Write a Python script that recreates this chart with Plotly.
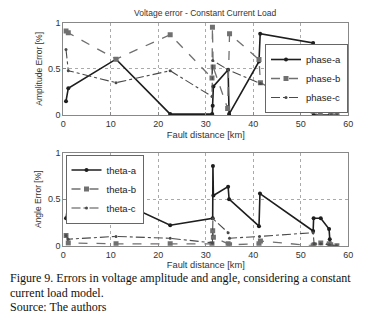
import plotly.graph_objects as go

# ---- data: top panel (amplitude error) ----
pa_x = [0.57, 1.05, 11.1, 22.5, 31.35, 31.45, 31.6, 34.7, 34.9, 41.2, 41.45, 52.6, 52.7, 54.1, 56.1, 57.7]
pa_y = [0.15, 0.29, 0.605, 0.01, 0.01, 0.10, 0.31, 0.49, 0.01, 0.58, 0.88, 0.78, 0.0, 0.0, 0.0, 0.0]

pb_x = [0.57, 1.05, 11.1, 22.5, 31.3, 31.4, 31.55, 34.6, 35.0, 41.2, 41.5, 52.6, 54.1, 55.9, 56.1, 56.4, 57.6]
pb_y = [0.91, 0.89, 0.605, 0.87, 0.40, 0.95, 0.52, 0.07, 0.88, 0.60, 0.35, 0.04, 0.0, 0.25, 0.13, 0.0, 0.0]

pc_x = [0.57, 1.05, 11.1, 22.5, 31.3, 31.45, 34.7, 41.5, 52.6, 52.7, 54.1, 56.0, 56.4, 57.6]
pc_y = [0.71, 0.48, 0.35, 0.48, 0.20, 0.59, 0.49, 0.34, 0.27, 0.20, 0.20, 0.16, 0.0, 0.0]

# ---- data: bottom panel (angle error) ----
ta_x = [0.57, 1.05, 11.1, 22.5, 31.45, 31.5, 31.6, 34.7, 34.9, 41.2, 41.4, 52.6, 52.7, 54.2, 55.95, 56.1, 56.2, 57.6]
ta_y = [0.295, 0.47, 0.49, 0.22, 0.295, 0.857, 0.54, 0.635, 0.50, 0.21, 0.56, 0.158, 0.295, 0.295, 0.18, 0.07, 0.0, 0.0]

tb_x = [0.57, 1.05, 11.1, 22.5, 31.3, 31.45, 31.6, 34.7, 35.0, 41.2, 41.5, 52.6, 52.8, 54.2, 56.0, 56.3, 57.6]
tb_y = [0.11, 0.03, 0.02, 0.02, 0.02, 0.16, 0.09, 0.02, 0.01, 0.02, 0.05, 0.0, 0.01, 0.03, 0.02, 0.01, 0.0]

tc_x = [0.57, 1.05, 11.1, 22.5, 31.4, 31.5, 34.7, 35.0, 41.3, 52.6, 52.8, 54.2, 56.0, 57.5]
tc_y = [0.11, 0.07, 0.10, 0.08, 0.03, 0.29, 0.14, 0.08, 0.10, 0.14, 0.02, 0.02, 0.01, 0.0]

x_ticks = [0, 10, 20, 30, 40, 50, 60]
y_ticks = [0, 0.5, 1]
y_tick_labels = ["0", "0.5", "1"]

# the page body has an 8px margin, so the figure is drawn 8px in from the top-left
OFF = 8
W, H = 386 - OFF, 322 - OFF
def px(v):
    return (v - OFF) / W
def py(v):
    return 1 - (v - OFF) / H

fig = go.Figure()

def add(x, y, name, color, dash, symbol, msize, width, axis, legend):
    fig.add_trace(go.Scatter(
        x=x, y=y, name=name, mode="lines+markers",
        line=dict(color=color, dash=dash, width=width),
        marker=dict(symbol=symbol, size=msize, color=color),
        xaxis="x" if axis == 1 else "x2", yaxis="y" if axis == 1 else "y2",
        legend=legend,
    ))

add(pa_x, pa_y, "phase-a", "#1e1e1e", "solid", "circle", 4, 1.6, 1, "legend")
add(pb_x, pb_y, "phase-b", "#707070", "dash", "square", 5, 1.3, 1, "legend")
add(pc_x, pc_y, "phase-c", "#4a4a4a", "dashdot", "circle", 3, 1.1, 1, "legend")
add(ta_x, ta_y, "theta-a", "#1e1e1e", "solid", "circle", 4, 1.6, 2, "legend2")
add(tb_x, tb_y, "theta-b", "#707070", "dash", "square", 5, 1.3, 2, "legend2")
add(tc_x, tc_y, "theta-c", "#4a4a4a", "dashdot", "circle", 3, 1.1, 2, "legend2")

tickfont = dict(family="Liberation Sans, Arial", size=9, color="#333")
axis_common = dict(
    range=[0, 60], tickvals=x_ticks, showgrid=True, gridcolor="#aaa", griddash="dot",
    gridwidth=1, showline=True, linecolor="#888", mirror=True, ticks="inside",
    ticklen=3, tickcolor="#888", zeroline=False, tickfont=tickfont, automargin=False,
)
yaxis_common = dict(
    range=[0, 1], tickvals=y_ticks, ticktext=y_tick_labels, showgrid=True, gridcolor="#aaa",
    griddash="dot", gridwidth=1, showline=True, linecolor="#888", mirror=True,
    ticks="inside", ticklen=3, tickcolor="#888", zeroline=False, tickfont=tickfont,
    automargin=False,
)
xtitle_font = dict(family="Liberation Sans, Arial", size=9.3, color="#333")
ytitle_font = dict(family="Liberation Sans, Arial", size=8.5, color="#333")
legend_font = dict(family="Liberation Sans, Arial", size=9.5, color="#222")
caption_font = dict(family="Liberation Serif, Times New Roman", size=12, color="#111")

fig.update_layout(
    width=W, height=H, margin=dict(l=0, r=0, t=0, b=0, pad=0, autoexpand=False),
    paper_bgcolor="white", plot_bgcolor="white", showlegend=True,
    xaxis=dict(domain=[px(63.3), px(348.3)], anchor="y",
               title=dict(text="Fault distance [km]", font=xtitle_font, standoff=3), **axis_common),
    yaxis=dict(domain=[py(115), py(22.7)], anchor="x",
               title=dict(text="Amplitude Error [%]", font=ytitle_font, standoff=4), **yaxis_common),
    xaxis2=dict(domain=[px(63.3), px(348.3)], anchor="y2",
                title=dict(text="Fault distance [km]", font=xtitle_font, standoff=2), **axis_common),
    yaxis2=dict(domain=[py(245.7), py(152.7)], anchor="x2",
                title=dict(text="Angle Error [%]", font=ytitle_font, standoff=4), **yaxis_common),
    legend=dict(x=px(348), y=py(44), xanchor="right", yanchor="top",
                bgcolor="white", bordercolor="#666", borderwidth=1, font=legend_font,
                tracegroupgap=0, itemwidth=30),
    legend2=dict(x=px(65.5), y=py(154.5), xanchor="left", yanchor="top",
                 bgcolor="white", bordercolor="#666", borderwidth=1, font=legend_font,
                 tracegroupgap=0, itemwidth=30),
    annotations=[
        dict(text="Voltage error - Constant Current Load", x=px(205.5), y=py(13),
             xref="paper", yref="paper", xanchor="center", yanchor="middle", showarrow=False,
             font=dict(family="Liberation Sans, Arial", size=8.5, color="#333")),
        dict(text="Figure 9. Errors in voltage amplitude and angle, considering a constant",
             x=px(8), y=py(277.5), xref="paper", yref="paper", xanchor="left", yanchor="middle",
             showarrow=False, font=caption_font),
        dict(text="current load model.",
             x=px(8), y=py(292.5), xref="paper", yref="paper", xanchor="left", yanchor="middle",
             showarrow=False, font=caption_font),
        dict(text="Source: The authors",
             x=px(8), y=py(307), xref="paper", yref="paper", xanchor="left", yanchor="middle",
             showarrow=False, font=caption_font),
    ],
)

fig.write_html("out.html")
